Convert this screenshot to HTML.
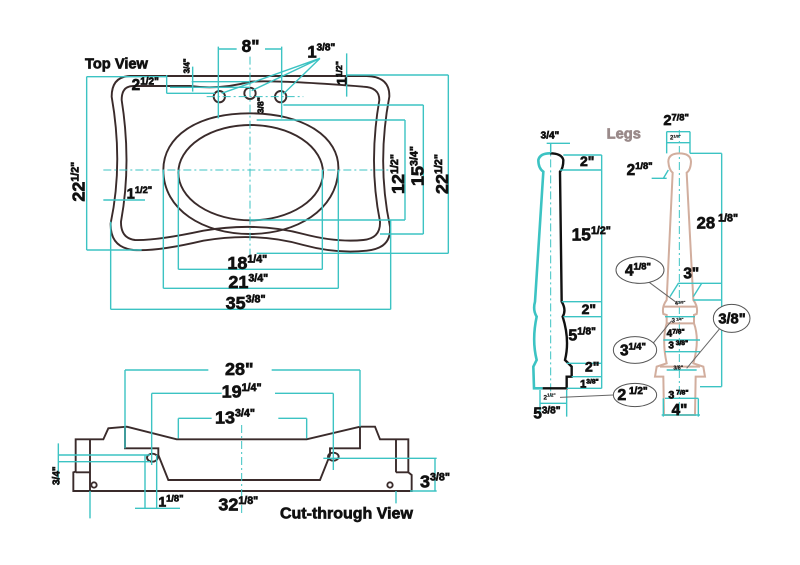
<!DOCTYPE html>
<html><head><meta charset="utf-8"><style>
html,body{margin:0;padding:0;background:#fff;}
svg{display:block;}
text{font-family:"Liberation Sans",Arial,sans-serif;font-weight:bold;fill:#111;stroke:#111;stroke-width:2;}
.t{stroke:#3cc3c3;fill:none;vector-effect:non-scaling-stroke;stroke-width:1.4;}
.d{stroke:#3cc3c3;fill:none;vector-effect:non-scaling-stroke;stroke-width:1;stroke-dasharray:8 3 2 3;}
.o{stroke:#3a2b2b;fill:none;vector-effect:non-scaling-stroke;stroke-width:1.9;}
.k{stroke:#111;fill:none;vector-effect:non-scaling-stroke;stroke-width:2.4;}
.n{stroke:#d2ae9e;fill:none;vector-effect:non-scaling-stroke;stroke-width:2;}
.g{stroke:#555;fill:#fff;vector-effect:non-scaling-stroke;stroke-width:1;}
</style></head><body>
<svg width="800" height="565" viewBox="0 0 800 565" xmlns="http://www.w3.org/2000/svg">
<rect width="800" height="565" fill="#fff"/>

<!-- TOP VIEW -->
<g transform="translate(70,30) scale(0.33333)">
<path class="o" d="M180,138 L890,138 Q960,140 958,200 Q920,400 960,590 Q965,655 890,662 Q800,672 700,645 Q560,605 400,632 Q260,665 190,660 Q120,652 122,580 Q160,400 125,200 Q125,140 180,138 Z"/>
<path class="o" d="M190,168 L360,168 Q450,180 540,155 Q630,150 880,170 Q928,172 928,210 Q895,400 930,575 Q932,625 880,630 Q800,638 700,612 Q560,575 400,602 Q260,632 195,630 Q152,625 153,575 Q185,400 155,210 Q155,168 190,168 Z"/>
<path class="o" d="M540,250 C700,250 810,320 805,420 C800,540 680,612 540,612 C400,612 280,540 280,420 C280,320 380,250 540,250 Z"/>
<ellipse class="o" cx="542" cy="428" rx="217" ry="143"/>
<circle class="o" cx="448" cy="200" r="17"/>
<circle class="o" cx="540" cy="190" r="17"/>
<circle class="o" cx="632" cy="200" r="17"/>
<line class="d" x1="410" y1="200" x2="700" y2="200"/>
<line class="d" x1="540" y1="80" x2="540" y2="690"/>
<line class="d" x1="100" y1="420" x2="960" y2="420"/>
<path class="t" d="M445,57 H500 M585,57 H635 M445,50 V265 M635,50 V265"/>
<path class="t" d="M50,140 V660 M50,140 H290 M50,660 H215"/>
<path class="t" d="M1005,270 V570 M560,270 H1005 M540,570 H1005"/>
<path class="t" d="M1060,225 V612 M640,225 H1060 M930,612 H1060"/>
<path class="t" d="M1135,135 V670 M830,135 H1135 M560,670 H1135"/>
<path class="t" d="M325,420 V718 M757,420 V718 M325,718 H757"/>
<path class="t" d="M280,420 V775 M805,420 V775 M280,775 H805"/>
<path class="t" d="M122,575 V838 M962,570 V838 M122,838 H962"/>
<path class="t" d="M290,135 V190 M290,190 H435 M300,172 H540 M365,155 H540 M368,110 V185"/>
<path class="t" d="M750,85 L455,190 M750,85 L545,182 M750,85 L640,192 M830,70 V200 M100,510 H225"/>
<text x="45" y="115" font-size="44">Top View</text>
<text x="515" y="66" font-size="52">8"</text>
<text x="712" y="82" font-size="50">1<tspan font-size="30" dy="-20">3/8"</tspan></text>
<text transform="translate(358,130) rotate(-90)" font-size="24">3/4"</text>
<text transform="translate(830,165) rotate(-90)" font-size="42">1<tspan font-size="26" dy="-14">1/2"</tspan></text>
<text x="185" y="180" font-size="46">2<tspan font-size="30" dy="-16">1/2"</tspan></text>
<text transform="translate(580,250) rotate(-90)" font-size="26">3/8"</text>
<text transform="translate(44,515) rotate(-90)" font-size="54">22<tspan font-size="32" dy="-18">1/2"</tspan></text>
<text x="170" y="505" font-size="44">1<tspan font-size="28" dy="-16">1/2"</tspan></text>
<text transform="translate(1002,492) rotate(-90)" font-size="54">12<tspan font-size="32" dy="-18">1/2"</tspan></text>
<text transform="translate(1060,468) rotate(-90)" font-size="54">15<tspan font-size="32" dy="-18">3/4"</tspan></text>
<text transform="translate(1134,492) rotate(-90)" font-size="54">22<tspan font-size="32" dy="-18">1/2"</tspan></text>
<text x="472" y="717" font-size="54">18<tspan font-size="32" dy="-20">1/4"</tspan></text>
<text x="475" y="774" font-size="54">21<tspan font-size="32" dy="-20">3/4"</tspan></text>
<text x="467" y="837" font-size="54">35<tspan font-size="32" dy="-20">3/8"</tspan></text>
</g>

<!-- LEGS -->
<g transform="translate(520,110) scale(0.33333)">
<line class="d" x1="92" y1="100" x2="92" y2="860"/>
<path class="t" style="stroke-width:2.6" d="M90,130 Q60,130 55,150 Q55,175 70,185 L45,575 Q38,600 50,620 Q35,690 50,750 L40,770 L42,835 L68,835"/>
<path class="k" d="M90,130 Q125,130 130,150 Q130,175 120,185 L125,575 Q140,600 128,620 Q150,690 135,750 L155,770 L155,800 L140,800 L140,835 L68,835"/>
<path class="t" d="M80,100 H150 M92,100 V130 M245,135 V835 M130,135 H245 M120,180 H245 M125,575 H245 M130,620 H245 M140,760 H245 M155,800 H245 M140,835 H245 M60,840 V920 M140,840 V920 M60,880 H140"/>
<line x1="120" y1="862" x2="280" y2="855" stroke="#666" style="vector-effect:non-scaling-stroke"/>
<ellipse class="g" cx="345" cy="855" rx="65" ry="35"/>
<text x="62" y="85" font-size="30">3/4"</text>
<text x="180" y="168" font-size="42">2"</text>
<text x="155" y="392" font-size="52">15<tspan font-size="32" dy="-20">1/2"</tspan></text>
<text x="185" y="612" font-size="42">2"</text>
<text x="145" y="692" font-size="48">5<tspan font-size="30" dy="-18">1/8"</tspan></text>
<text x="195" y="785" font-size="42">2"</text>
<text x="180" y="832" font-size="34">1<tspan font-size="20" dy="-12">3/8"</tspan></text>
<text x="70" y="868" font-size="20" style="stroke-width:0.5">2<tspan font-size="14" dy="-8">1/2"</tspan></text>
<text x="40" y="925" font-size="46">5<tspan font-size="30" dy="-14">3/8"</tspan></text>
<text x="292" y="870" font-size="48">2<tspan font-size="30" dy="-18"> 1/2"</tspan></text>
<text x="260" y="85" font-size="44" style="fill:#9a8a8a;stroke:#9a8a8a">Legs</text>

<line class="d" x1="478" y1="60" x2="478" y2="920"/>
<path class="n" d="M478,130 Q445,130 445,155 Q447,180 458,188 L440,570 Q425,590 430,612 L440,615 L440,640 Q425,690 440,760 L410,770 L405,800 L430,800 L432,915 L525,915 L527,800 L555,800 L550,770 L520,760 Q540,690 522,640 L522,615 L530,612 Q535,590 520,570 L500,188 Q512,180 513,155 Q512,130 478,130 Z"/>
<path class="n" d="M430,590 H530 M440,640 H522 M420,770 H540"/>
<path class="t" d="M440,65 H510 M440,65 V130 M510,65 V130 M440,98 H510 M605,130 V830 M510,130 H605 M520,570 H605 M540,830 H605 M395,205 L440,205 M430,205 L445,180 M450,560 L475,520 H545 L520,560 M540,520 H605 M435,620 H525 M430,690 H540 M435,725 H540 M440,780 H530 M435,865 H535 M430,865 V920 M535,865 V920 M425,915 H540"/>
<line x1="385" y1="515" x2="470" y2="578" stroke="#666" style="vector-effect:non-scaling-stroke"/>
<line x1="395" y1="705" x2="455" y2="632" stroke="#666" style="vector-effect:non-scaling-stroke"/>
<line x1="600" y1="655" x2="500" y2="775" stroke="#666" style="vector-effect:non-scaling-stroke"/>
<ellipse class="g" cx="360" cy="480" rx="72" ry="40"/>
<ellipse class="g" cx="345" cy="720" rx="65" ry="40"/>
<ellipse class="g" cx="635" cy="625" rx="55" ry="42"/>
<text x="430" y="45" font-size="44">2<tspan font-size="28" dy="-14">7/8"</tspan></text>
<text x="450" y="88" font-size="18" style="stroke-width:0.5">2<tspan font-size="12" dy="-6">1/8"</tspan></text>
<text x="320" y="195" font-size="46">2<tspan font-size="28" dy="-18">1/8"</tspan></text>
<text x="530" y="355" font-size="50">28<tspan font-size="32" dy="-20"> 1/8"</tspan></text>
<text x="315" y="497" font-size="46">4<tspan font-size="28" dy="-18">1/8"</tspan></text>
<text x="490" y="505" font-size="46">3"</text>
<text x="465" y="585" font-size="16" style="stroke-width:0.5">4<tspan font-size="12" dy="-5">1/8"</tspan></text>
<text x="455" y="637" font-size="18" style="stroke-width:0.5">3<tspan font-size="12" dy="-5"> 1/4"</tspan></text>
<text x="440" y="680" font-size="30">4<tspan font-size="20" dy="-10">7/8"</tspan></text>
<text x="445" y="715" font-size="30">3<tspan font-size="20" dy="-10"> 3/8"</tspan></text>
<text x="460" y="778" font-size="16" style="stroke-width:0.5">3/8"</text>
<text x="300" y="737" font-size="46">3<tspan font-size="28" dy="-18">1/4"</tspan></text>
<text x="595" y="640" font-size="44">3/8"</text>
<text x="445" y="865" font-size="32">3<tspan font-size="20" dy="-12"> 7/8"</tspan></text>
<text x="455" y="915" font-size="46">4"</text>
</g>

<!-- CUT-THROUGH VIEW -->
<g transform="translate(40,355) scale(0.33333)">
<path class="o" d="M100,408 L100,352 L107,350 L107,253 L190,253 L205,220 L260,215 L410,253 L800,253 L960,215 L1005,215 L1020,253 L1105,253 L1105,352 L1115,360 L1115,408 Z"/>
<path class="o" d="M150,253 V408 M1068,253 V352 M1068,352 H1105 M107,352 H150"/>
<path class="o" d="M255,215 V280 H355 V300 L385,375 H840 L870,300 V280 H960 V215"/>
<ellipse class="o" cx="337" cy="308" rx="16" ry="12"/>
<ellipse class="o" cx="880" cy="305" rx="16" ry="12"/>
<circle class="o" cx="162" cy="390" r="8"/>
<circle class="o" cx="1050" cy="390" r="8"/>
<line class="d" x1="605" y1="210" x2="605" y2="480"/>
<path class="t" d="M255,45 H505 M695,45 H960 M255,45 V280 M960,45 V215"/>
<path class="t" d="M335,115 H545 M705,115 H880 M335,115 V330 M880,115 V345"/>
<path class="t" d="M415,190 H515 M715,190 H800 M415,190 V250 M800,190 V250"/>
<path class="t" d="M55,265 V390 M55,300 H330 M55,320 H330 M315,300 V460 M350,300 V460 M285,460 H420"/>
<path class="t" d="M1185,310 V410 M850,310 H1190 M1110,408 H1190 M150,408 V490 M1068,408 V445"/>
<text x="555" y="60" font-size="54">28"</text>
<text x="545" y="128" font-size="54">19<tspan font-size="32" dy="-20">1/4"</tspan></text>
<text x="525" y="205" font-size="54">13<tspan font-size="32" dy="-20">3/4"</tspan></text>
<text transform="translate(58,390) rotate(-90)" font-size="30">3/4"</text>
<text x="1140" y="397" font-size="54">3<tspan font-size="32" dy="-20">3/8"</tspan></text>
<text x="355" y="454" font-size="42">1<tspan font-size="28" dy="-14">1/8"</tspan></text>
<text x="535" y="467" font-size="54">32<tspan font-size="32" dy="-20">1/8"</tspan></text>
<text x="720" y="490" font-size="48">Cut-through View</text>
</g>
</svg>
</body></html>
